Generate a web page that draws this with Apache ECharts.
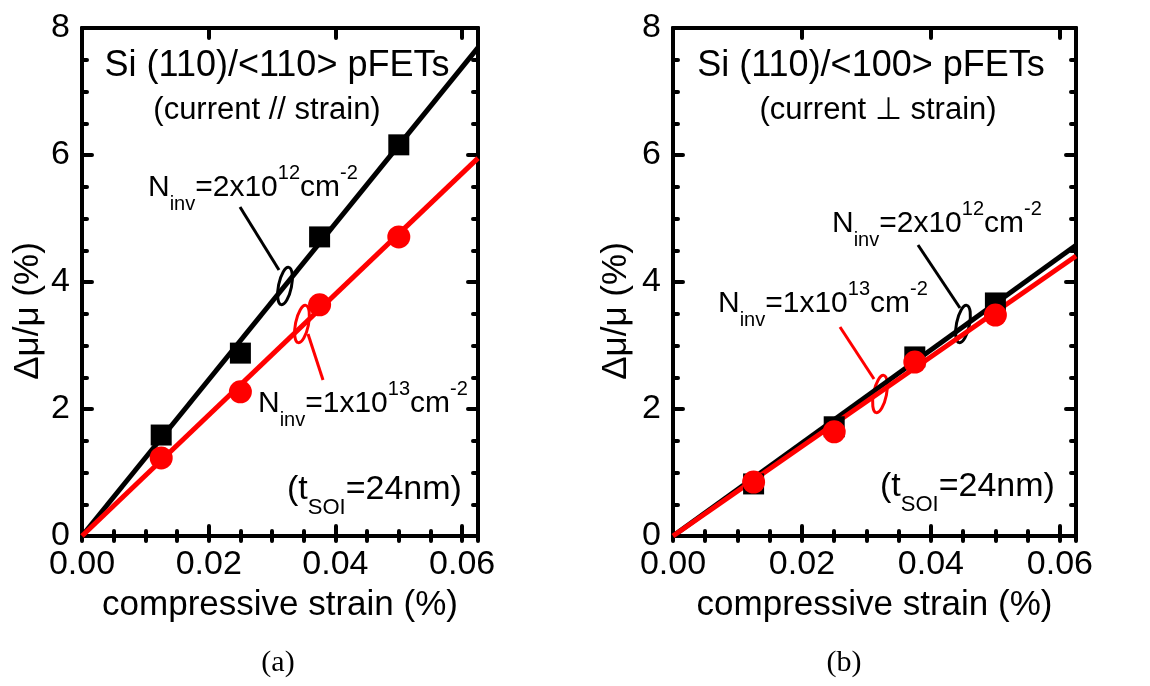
<!DOCTYPE html>
<html>
<head>
<meta charset="utf-8">
<script src="https://cdn.jsdelivr.net/npm/echarts@6/dist/echarts.min.js"></script>
<style>
  html, body { margin: 0; padding: 0; background: #fff; }
  #chart { width: 1150px; height: 686px; }
</style>
</head>
<body>
<div id="chart"></div>
<script>
// compressive strain (%) of the measured points
const strain = [0.0125, 0.025, 0.0375, 0.05];

// (a) Si (110)/<110>, current // strain
const a_n2e12 = [1.59, 2.88, 4.71, 6.16];
const a_n1e13 = [1.23, 2.27, 3.64, 4.71];
// (b) Si (110)/<100>, current ⊥ strain
const b_n2e12 = [0.82, 1.72, 2.82, 3.67];
const b_n1e13 = [0.85, 1.64, 2.74, 3.48];

// linear fits, read at both ends of the x range
const fitX = [0, 0.0625];
const a_fit2e12 = [0, 7.69];
const a_fit1e13 = [0, 5.95];
const b_fit2e12 = [0, 4.58];
const b_fit1e13 = [0, 4.41];

const xTicks = [0, 0.02, 0.04, 0.06];
const yTicks = [0, 2, 4, 6, 8];

const FONT = '"Liberation Sans", Arial, sans-serif';
const RED = '#ff0000';

const chart = echarts.init(document.getElementById('chart'));

const ctx = document.createElement('canvas').getContext('2d');
function measure(text, size) {
  ctx.font = size + 'px ' + FONT;
  return ctx.measureText(text).width;
}

// one text run with sub/superscripts: x = left edge, base = baseline
function scriptText(x, base, parts) {
  const els = [];
  let cx = x;
  parts.forEach(([t, size, dy]) => {
    els.push({
      type: 'text', x: cx, y: base + dy - 0.31 * size, silent: true,
      style: { text: t, fill: '#000', font: size + 'px ' + FONT, textAlign: 'left', textVerticalAlign: 'middle' }
    });
    cx += measure(t, size);
  });
  return els;
}

function centerText(x, y, text, size, family, rot) {
  return {
    type: 'text', x: x, y: y, rotation: rot || 0, silent: true,
    style: { text: text, fill: '#000', font: size + 'px ' + (family || FONT), textAlign: 'center', textVerticalAlign: 'middle' }
  };
}

function ring(x, y, color) {
  return {
    type: 'ellipse', x: x, y: y, rotation: -0.2, silent: true,
    shape: { cx: 0, cy: 0, rx: 6.5, ry: 19 },
    style: { fill: 'none', stroke: color, lineWidth: 3 }
  };
}

function leader(x1, y1, x2, y2, color) {
  return { type: 'line', silent: true, shape: { x1, y1, x2, y2 }, style: { stroke: color, lineWidth: 3 } };
}

const frameLine = { show: true, onZero: false, lineStyle: { color: '#000', width: 4 } };
const majorTick = { inside: true, length: 10, lineStyle: { color: '#000', width: 4, cap: 'round' } };
const minorTick = { inside: true, length: 5, lineStyle: { color: '#000', width: 4, cap: 'round' } };

// four x axes per grid: labelled bottom, mirrored top, and the minor ticks on both
function xAxes(g) {
  const base = {
    type: 'value', gridIndex: g, min: 0, max: 0.0625, splitLine: { show: false }
  };
  return [
    Object.assign({}, base, {
      position: 'bottom', interval: 0.02, axisLine: frameLine, axisTick: majorTick,
      axisLabel: {
        fontSize: 34, fontFamily: FONT, color: '#000', margin: 12, showMaxLabel: false,
        formatter: v => xTicks.indexOf(+v.toFixed(4)) >= 0 ? v.toFixed(2) : ''
      },
      name: 'compressive strain (%)', nameLocation: 'middle', nameGap: 52,
      nameTextStyle: { fontSize: 35, fontFamily: FONT, color: '#000' }
    }),
    Object.assign({}, base, {
      position: 'top', interval: 0.02, axisLine: frameLine, axisTick: majorTick,
      axisLabel: { show: false }
    }),
    Object.assign({}, base, {
      position: 'bottom', interval: 0.005, axisLine: { show: false }, axisTick: minorTick,
      axisLabel: { show: false }
    }),
    Object.assign({}, base, {
      position: 'top', interval: 0.005, axisLine: { show: false }, axisTick: minorTick,
      axisLabel: { show: false }
    })
  ];
}

function yAxes(g) {
  const base = {
    type: 'value', gridIndex: g, min: yTicks[0], max: yTicks[yTicks.length - 1], interval: 2,
    splitLine: { show: false }, axisLine: frameLine, axisTick: majorTick,
    minorTick: { show: true, splitNumber: 4, length: 5, lineStyle: { color: '#000', width: 4, cap: 'round' } }
  };
  return [
    Object.assign({}, base, {
      position: 'left',
      axisLabel: { fontSize: 34, fontFamily: FONT, color: '#000', margin: 12 }
    }),
    Object.assign({}, base, { position: 'right', axisLabel: { show: false } })
  ];
}

function pairs(xs, ys) {
  return xs.map((x, i) => [x, ys[i]]);
}

function panelSeries(g, fitBlack, fitRed, sq, ci) {
  const ax = { xAxisIndex: g * 4, yAxisIndex: g * 2 };
  return [
    Object.assign({ type: 'line', data: pairs(fitX, fitBlack), symbol: 'none', z: 2,
      lineStyle: { color: '#000', width: 5 } }, ax),
    Object.assign({ type: 'line', data: pairs(fitX, fitRed), symbol: 'none', z: 3,
      lineStyle: { color: RED, width: 5 } }, ax),
    Object.assign({ type: 'scatter', data: pairs(strain, sq), symbol: 'rect', symbolSize: 21, z: 4,
      itemStyle: { color: '#000', opacity: 1 } }, ax),
    Object.assign({ type: 'scatter', data: pairs(strain, ci), symbol: 'circle', symbolSize: 23, z: 5,
      itemStyle: { color: RED, opacity: 1 } }, ax)
  ];
}

const graphics = [
  // panel (a)
  centerText(277, 66, 'Si (110)/<110> pFETs', 36),
  centerText(267, 110, '(current // strain)', 31),
  centerText(28, 311, 'Δμ/μ (%)', 35, null, Math.PI / 2),
  ...scriptText(148, 197, [['N', 30, 0], ['inv', 20, 14], ['=2x10', 30, 0], ['12', 20, -17], ['cm', 30, 0], ['-2', 20, -17]]),
  ...scriptText(258, 413, [['N', 30, 0], ['inv', 20, 14], ['=1x10', 30, 0], ['13', 20, -17], ['cm', 30, 0], ['-2', 20, -17]]),
  ...scriptText(287, 500, [['(t', 34, 0], ['SOI', 22, 15], ['=24nm)', 34, 0]]),
  leader(240, 207, 279, 270, '#000'),
  ring(285, 286, '#000'),
  leader(308, 334, 323, 380, RED),
  ring(302, 324, RED),
  centerText(278, 663, '(a)', 30, '"Liberation Serif", serif'),

  // panel (b)
  centerText(871, 66, 'Si (110)/<100> pFETs', 36),
  centerText(878, 110, '(current ⊥ strain)', 31),
  centerText(616, 311, 'Δμ/μ (%)', 35, null, Math.PI / 2),
  ...scriptText(832, 233, [['N', 30, 0], ['inv', 20, 14], ['=2x10', 30, 0], ['12', 20, -17], ['cm', 30, 0], ['-2', 20, -17]]),
  ...scriptText(718, 313, [['N', 30, 0], ['inv', 20, 14], ['=1x10', 30, 0], ['13', 20, -17], ['cm', 30, 0], ['-2', 20, -17]]),
  ...scriptText(880, 497, [['(t', 34, 0], ['SOI', 22, 15], ['=24nm)', 34, 0]]),
  leader(918, 245, 960, 308, '#000'),
  ring(963, 324, '#000'),
  leader(840, 327, 874, 379, RED),
  ring(880, 394, RED),
  centerText(844, 663, '(b)', 30, '"Liberation Serif", serif')
];

chart.setOption({
  animation: false,
  backgroundColor: '#fff',
  grid: [
    { left: 82, top: 28, width: 396, height: 508 },
    { left: 673, top: 28, width: 403, height: 508 }
  ],
  xAxis: xAxes(0).concat(xAxes(1)),
  yAxis: yAxes(0).concat(yAxes(1)),
  series: panelSeries(0, a_fit2e12, a_fit1e13, a_n2e12, a_n1e13)
    .concat(panelSeries(1, b_fit2e12, b_fit1e13, b_n2e12, b_n1e13)),
  graphic: graphics
});
</script>
</body>
</html>
